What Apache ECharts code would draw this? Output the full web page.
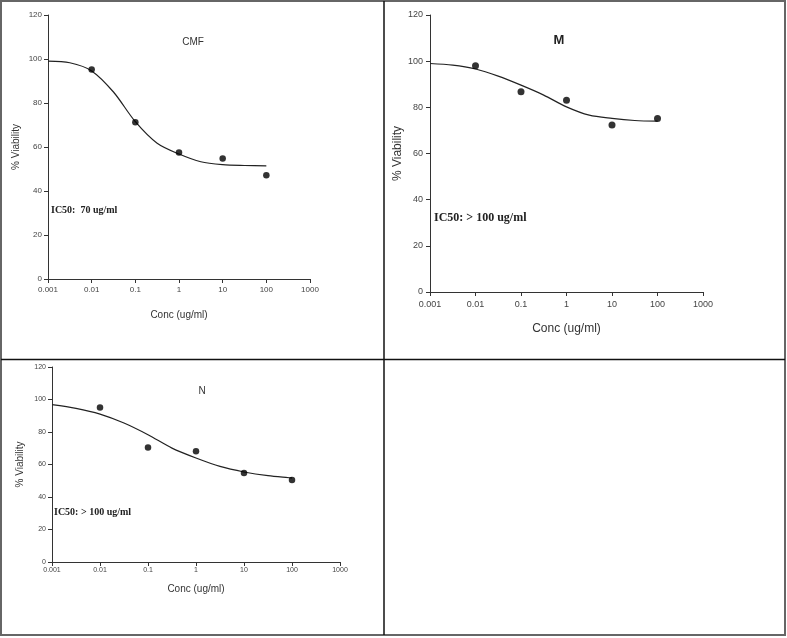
<!DOCTYPE html>
<html>
<head>
<meta charset="utf-8">
<script src="https://cdn.jsdelivr.net/npm/echarts@6/dist/echarts.min.js"></script>
<style>
html,body{margin:0;padding:0;background:#fff;}
#c{width:787px;height:638px;}
</style>
</head>
<body>
<div id="c"></div>
<script>
// ---- data ----
var xTickLabels = ['0.001','0.01','0.1','1','10','100','1000'];
var yTickLabels = ['0','20','40','60','80','100','120'];

var doseConc = [0.01, 0.1, 1, 10, 100];

var cmfViability = [95.2, 71.3, 57.5, 54.8, 47.2];
var mViability   = [98.0, 86.7, 83.1, 72.4, 75.2];
var nViability   = [95.1, 70.5, 68.1, 54.8, 50.5];

// fitted curves
var curveConc = [0.001, 0.00316, 0.01, 0.0316, 0.1, 0.316, 1, 3.16, 10, 31.6, 100];
var cmfCurve  = [99.0, 98.3, 94.6, 85.0, 71.5, 61.7, 56.8, 53.3, 52.0, 51.6, 51.4];
var mCurve    = [99.0, 98.3, 96.6, 93.5, 89.6, 85.3, 80.2, 76.6, 75.2, 74.3, 74.0];
var nCurve    = [96.8, 94.5, 91.0, 85.5, 78.3, 70.1, 64.0, 58.8, 55.4, 53.1, 51.7];

var panelTitles = ['CMF', 'M', 'N'];
var ic50Texts   = ['IC50:  70 ug/ml', 'IC50: > 100 ug/ml', 'IC50: > 100 ug/ml'];
var xAxisTitle = 'Conc (ug/ml)';
var yAxisTitle = '% Viability';

function pairs(xs, ys){ return xs.map(function(x,i){ return [x, ys[i]]; }); }

var chart = echarts.init(document.getElementById('c'), null, {renderer:'canvas'});

var grids = [
  {left:48, top:15, width:262, height:264},
  {left:430, top:15, width:273, height:277},
  {left:52, top:367, width:288, height:195}
];
var styles = [
  {tick:8, name:10, labelMargin:7, xNameGap:31, yNameGap:27, yLabMargin:6},
  {tick:9, name:12, labelMargin:8, xNameGap:31, yNameGap:24, yLabMargin:7},
  {tick:7, name:10, labelMargin:5, xNameGap:22, yNameGap:27, yLabMargin:6}
];
var axisColor = '#333';
var textColor = '#444';

var xAxes = [], yAxes = [], series = [];
grids.forEach(function(g, i){
  var s = styles[i];
  xAxes.push({
    gridIndex:i, type:'log', logBase:10, min:0.001, max:1000,
    name:xAxisTitle, nameLocation:'middle', nameGap:s.xNameGap,
    nameTextStyle:{fontFamily:'Liberation Sans', fontSize:s.name, color:'#333'},
    axisLine:{onZero:false, lineStyle:{color:axisColor, width:1}},
    axisTick:{show:true, inside:false, length:4, lineStyle:{color:axisColor}},
    minorTick:{show:false},
    splitLine:{show:false},
    axisLabel:{fontFamily:'Liberation Sans', fontSize:s.tick, color:textColor, margin:s.labelMargin,
      formatter:function(v){
        var k = Math.round(Math.log10(v)) + 3;
        return xTickLabels[k] !== undefined ? xTickLabels[k] : '';
      }}
  });
  yAxes.push({
    gridIndex:i, type:'value', min:0, max:120, interval:20,
    name:yAxisTitle, nameLocation:'middle', nameGap:s.yNameGap, nameRotate:90,
    nameTextStyle:{fontFamily:'Liberation Sans', fontSize:s.name, color:'#333'},
    axisLine:{show:true, lineStyle:{color:axisColor, width:1}},
    axisTick:{show:true, inside:false, length:4, lineStyle:{color:axisColor}},
    splitLine:{show:false},
    axisLabel:{fontFamily:'Liberation Sans', fontSize:s.tick, color:textColor, margin:s.yLabMargin,
      formatter:function(v){ return yTickLabels[Math.round(v/20)]; }}
  });
});

var viabilities = [cmfViability, mViability, nViability];
var curves = [cmfCurve, mCurve, nCurve];
var markerSizes = [6.5, 7, 6.5];
for (var i=0;i<3;i++){
  series.push({
    type:'line', xAxisIndex:i, yAxisIndex:i, data:pairs(curveConc, curves[i]),
    smooth:0.3, showSymbol:false, symbol:'none',
    lineStyle:{color:'#222', width:1.2}, silent:true, z:2
  });
  series.push({
    type:'scatter', xAxisIndex:i, yAxisIndex:i, data:pairs(doseConc, viabilities[i]),
    symbol:'circle', symbolSize:markerSizes[i],
    itemStyle:{color:'#000'}, silent:true, z:3
  });
}

var graphics = [
  // outer frame
  {type:'rect', shape:{x:1, y:1, width:784, height:634}, style:{fill:null, stroke:'#666', lineWidth:2}, silent:true},
  // dividers
  {type:'line', shape:{x1:384, y1:1, x2:384, y2:635}, style:{stroke:'#111', lineWidth:1.5}, silent:true},
  {type:'line', shape:{x1:1, y1:359.5, x2:785, y2:359.5}, style:{stroke:'#111', lineWidth:1.5}, silent:true},
  // panel titles
  {type:'text', x:193, y:42, style:{text:panelTitles[0], font:'10px "Liberation Sans"', fill:'#333', align:'center', verticalAlign:'middle'}},
  {type:'text', x:559, y:40, style:{text:panelTitles[1], font:'bold 13px "Liberation Sans"', fill:'#222', align:'center', verticalAlign:'middle'}},
  {type:'text', x:202, y:391, style:{text:panelTitles[2], font:'10px "Liberation Sans"', fill:'#333', align:'center', verticalAlign:'middle'}},
  // IC50 labels
  {type:'text', x:51, y:210, style:{text:ic50Texts[0], font:'bold 10px "Liberation Serif"', fill:'#222', align:'left', verticalAlign:'middle'}},
  {type:'text', x:434, y:218, style:{text:ic50Texts[1], font:'bold 12px "Liberation Serif"', fill:'#222', align:'left', verticalAlign:'middle'}},
  {type:'text', x:54, y:512, style:{text:ic50Texts[2], font:'bold 10px "Liberation Serif"', fill:'#222', align:'left', verticalAlign:'middle'}}
];

chart.setOption({
  animation:false,
  backgroundColor:'#fff',
  grid:grids,
  xAxis:xAxes,
  yAxis:yAxes,
  series:series,
  graphic:graphics
});
</script>
</body>
</html>
